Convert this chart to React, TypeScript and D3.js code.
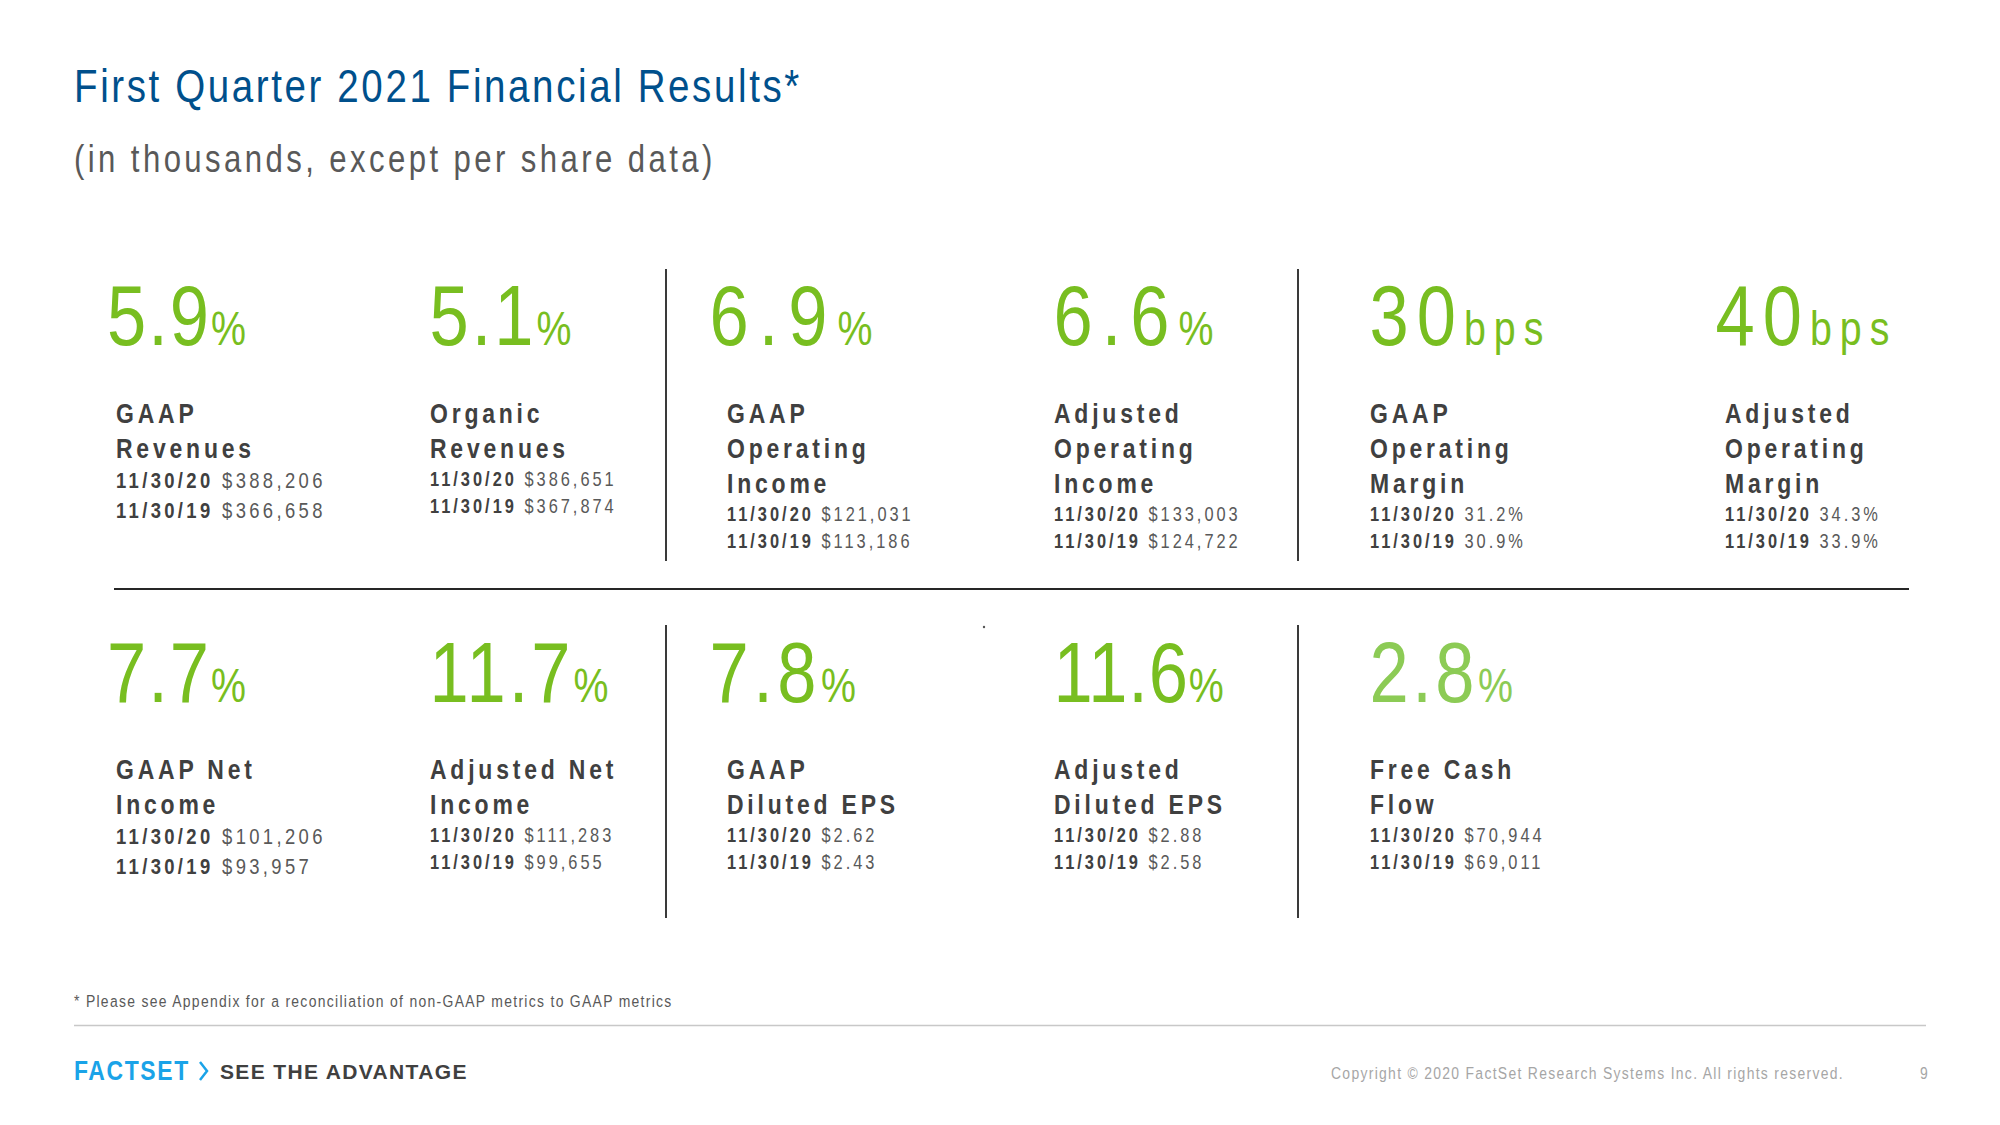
import React from "react";
import * as d3 from "d3";

// ---------- data ----------
const titleText = "First Quarter 2021 Financial Results*";
const subtitleText = "(in thousands, except per share data)";
const periodLabels = ["11/30/20", "11/30/19"];
const growthValues = ["5.9", "5.1", "6.9", "6.6", "30", "40", "7.7", "11.7", "7.8", "11.6", "2.8"];
const growthUnits = ["%", "%", "%", "%", "bps", "bps", "%", "%", "%", "%", "%"];
const metricNames = [
  ["GAAP", "Revenues"],
  ["Organic", "Revenues"],
  ["GAAP", "Operating", "Income"],
  ["Adjusted", "Operating", "Income"],
  ["GAAP", "Operating", "Margin"],
  ["Adjusted", "Operating", "Margin"],
  ["GAAP Net", "Income"],
  ["Adjusted Net", "Income"],
  ["GAAP", "Diluted EPS"],
  ["Adjusted", "Diluted EPS"],
  ["Free Cash", "Flow"],
];
const currentValues = ["$388,206", "$386,651", "$121,031", "$133,003", "31.2%", "34.3%", "$101,206", "$111,283", "$2.62", "$2.88", "$70,944"];
const priorValues = ["$366,658", "$367,874", "$113,186", "$124,722", "30.9%", "33.9%", "$93,957", "$99,655", "$2.43", "$2.58", "$69,011"];
const footnoteText = "* Please see Appendix for a reconciliation of non-GAAP metrics to GAAP metrics";
const copyrightText = "Copyright \u00A9 2020 FactSet Research Systems Inc. All rights reserved.";
const pageNumber = "9";

// ---------- styles / layout ----------
const FONT = "'Liberation Sans', Arial, sans-serif";
const GREEN = "#78BE20";
const GREEN_LIGHT = "#8CCB55";
const DARK = "#404040";
const MID = "#595959";
const NARROW = 0.82;

const colsPerRow = [6, 5];
const numberX = d3.scaleOrdinal<number, number>().domain([0, 1, 2, 3, 4, 5]).range([107, 429.5, 709.5, 1053.5, 1369.5, 1715.5]);
const labelX = d3.scaleOrdinal<number, number>().domain([0, 1, 2, 3, 4, 5]).range([116, 430, 727, 1054, 1370, 1725]);
const rowNumberBaseline = [345, 702];
const rowLabelStart = [423, 779];
const numberTracking = [2, 3, 10, 9, 8, 8, 2, 3, 4.5, 0.8, 3.5];

type TP = {
  x: number; y: number; size: number; sx?: number; ls?: number; weight?: any;
  fill?: string; children?: any; anchor?: string;
};
function T({ x, y, size, sx = NARROW, ls = 0, weight = "normal", fill = DARK, children, anchor = "start" }: TP) {
  return (
    <text
      transform={`translate(${x},${y}) scale(${sx},1)`}
      fontFamily={FONT}
      fontSize={size}
      fontWeight={weight}
      letterSpacing={ls / sx}
      fill={fill}
      textAnchor={anchor}
    >
      {children}
    </text>
  );
}

export default function App() {
  const W = 2000, H = 1125;
  const cells = growthValues.map((v, i) => {
    const row = i < colsPerRow[0] ? 0 : 1;
    const col = row === 0 ? i : i - colsPerRow[0];
    return { i, row, col, v };
  });

  return (
    <svg width={W} height={H} viewBox={`0 0 ${W} ${H}`} style={{ position: "absolute", left: 0, top: 0, background: "#fff" }}>
      <rect x={0} y={0} width={W} height={H} fill="#fff" />
      <T x={74} y={102} size={47} ls={2.6} fill="#00508C">{titleText}</T>
      <T x={74} y={172} size={38} ls={3.4} fill={MID}>{subtitleText}</T>

      {/* dividers */}
      {[0, 1].map((r) =>
        [666, 1298].map((x) => (
          <line key={`v${r}${x}`} x1={x} x2={x} y1={r === 0 ? 269 : 625} y2={r === 0 ? 561 : 918} stroke="#3a3a3a" strokeWidth={2} />
        ))
      )}
      <line x1={114} x2={1909} y1={589} y2={589} stroke="#262626" strokeWidth={2} />
      <circle cx={984} cy={627} r={1.2} fill="#555" />

      {cells.map(({ i, row, col, v }) => {
        const nx = numberX(col);
        const lx = labelX(col);
        const lines = metricNames[i];
        const ls0 = rowLabelStart[row];
        const lastLabel = ls0 + (lines.length - 1) * 35;
        const big = col === 0;
        const vSize = big ? 22.5 : 20;
        const vLs = big ? 3.35 : 3;
        const vGap = big ? 30 : 28;
        const vStep = big ? 29.5 : 27;
        const color = i === 10 ? GREEN_LIGHT : GREEN;
        return (
          <g key={i}>
            <T x={nx} y={rowNumberBaseline[row]} size={86} ls={numberTracking[i]} fill={color}>
              {v}
              <tspan fontSize={48}>{growthUnits[i]}</tspan>
            </T>
            {lines.map((ln, k) => (
              <T key={k} x={lx} y={ls0 + k * 35} size={28} weight="bold" ls={3.8} fill={DARK}>{ln}</T>
            ))}
            {[currentValues[i], priorValues[i]].map((val, k) => (
              <T key={`v${k}`} x={lx} y={lastLabel + vGap + k * vStep} size={vSize} ls={vLs} fill={DARK}>
                <tspan fontWeight="bold" fill={DARK}>{periodLabels[k]}</tspan>
                <tspan fill={MID}>{" " + val}</tspan>
              </T>
            ))}
          </g>
        );
      })}

      <T x={74} y={1007} size={17} ls={1.3} fill={MID}>{footnoteText}</T>
      <line x1={74} x2={1926} y1={1025.5} y2={1025.5} stroke="#C8C8C8" strokeWidth={1.5} />

      <T x={74} y={1080} size={28} weight="bold" sx={0.82} ls={1.6} fill="#1AA3E8">FACTSET</T>
      <path d="M200,1062 L207,1071 L200,1080" fill="none" stroke="#1AA3E8" strokeWidth={2.5} />
      <T x={220} y={1079} size={21} weight="bold" sx={1} ls={1.35} fill={DARK}>SEE THE ADVANTAGE</T>

      <T x={1331} y={1079} size={17} ls={1.3} fill="#A6A6A6">{copyrightText}</T>
      <T x={1920} y={1079} size={17} fill="#A6A6A6">{pageNumber}</T>
    </svg>
  );
}
